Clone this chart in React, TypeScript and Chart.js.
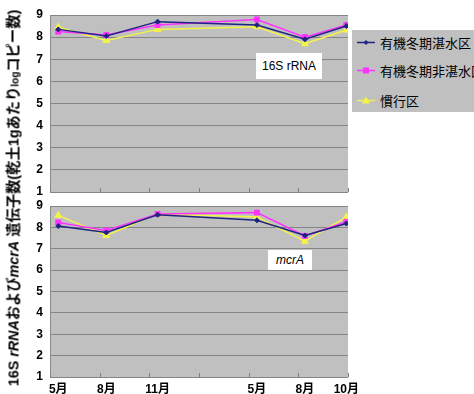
import React, { useEffect, useRef } from 'react';
import { Chart, registerables } from 'chart.js';
Chart.register(...registerables);

// ---- data ----
const categories = ['5月', '8月', '11月', '5月', '8月', '10月'];
const sampleMonths = [0.5, 3.4, 6.5, 12.5, 15.4, 17.9];
const seriesNames = ['有機冬期湛水区', '有機冬期非湛水区', '慣行区'];
const rrnaFlooded = [8.35, 8.05, 8.7, 8.55, 7.9, 8.5];
const rrnaNonFlooded = [8.25, 8.1, 8.55, 8.8, 8.0, 8.55];
const rrnaConventional = [8.45, 7.85, 8.35, 8.47, 7.7, 8.32];
const mcrFlooded = [8.06, 7.76, 8.59, 8.33, 7.62, 8.18];
const mcrNonFlooded = [8.23, 7.85, 8.63, 8.69, 7.6, 8.26];
const mcrConventional = [8.56, 7.62, 8.62, 8.48, 7.35, 8.48];
const yMin = 1;
const yMax = 9;
const xMin = 0;
const xMax = 18;
const xMarkStep = 3;

const seriesColors = ['#1c2580', '#ff33ff', '#f4f448'];
const seriesPoint = ['rectRot', 'rect', 'triangle'];
const seriesRadius = [2.5, 3.5, 4];

const FONT = '"Liberation Sans", "Noto Sans CJK JP", sans-serif';

const bgPlugin = {
  id: 'panelBg',
  beforeDraw(chart: any) {
    const { ctx, chartArea } = chart;
    ctx.save();
    ctx.fillStyle = '#c0c0c0';
    ctx.fillRect(chartArea.left, chartArea.top, chartArea.right - chartArea.left, chartArea.bottom - chartArea.top);
    ctx.restore();
  },
  beforeDatasetsDraw(chart: any) {
    const { ctx, chartArea } = chart;
    const xs = chart.scales.x;
    ctx.save();
    ctx.strokeStyle = '#808080';
    ctx.lineWidth = 1;
    for (let v = xMin; v <= xMax; v += xMarkStep) {
      const px = Math.round(xs.getPixelForValue(v)) + 0.5;
      ctx.beginPath();
      ctx.moveTo(px, chartArea.bottom);
      ctx.lineTo(px, chartArea.bottom - 4);
      ctx.stroke();
    }
    ctx.restore();
  },
};

function makeChart(canvas: HTMLCanvasElement, values: number[][], showLabels: boolean, padTop: number, xHeight: number) {
  return new Chart(canvas, {
    type: 'line',
    data: {
      datasets: values.map((vals, i) => ({
        label: seriesNames[i],
        data: vals.map((v, j) => ({ x: sampleMonths[j], y: v })),
        borderColor: seriesColors[i],
        backgroundColor: seriesColors[i],
        borderWidth: 1.5,
        pointStyle: seriesPoint[i] as any,
        pointRadius: seriesRadius[i],
        pointBorderWidth: 1,
        pointBorderColor: seriesColors[i],
        pointBackgroundColor: seriesColors[i],
        tension: 0,
      })),
    },
    options: {
      responsive: false,
      animation: false,
      events: [],
      layout: { padding: { top: padTop, right: 22, left: 0, bottom: 0 } },
      plugins: { legend: { display: false }, tooltip: { enabled: false } },
      scales: {
        x: {
          type: 'linear',
          min: xMin,
          max: xMax,
          afterBuildTicks: (scale: any) => {
            scale.ticks = sampleMonths.map((v) => ({ value: v }));
          },
          afterFit: (scale: any) => {
            scale.height = xHeight;
            scale.paddingLeft = 0;
            scale.paddingRight = 0;
          },
          grid: { display: false, drawTicks: false },
          border: { display: false },
          ticks: {
            display: showLabels,
            autoSkip: false,
            maxRotation: 0,
            padding: 5,
            color: '#000',
            font: { family: FONT, size: 12, weight: 'bold' },
            callback: (_v: any, i: number) => categories[i],
          },
        },
        y: {
          type: 'linear',
          min: yMin,
          max: yMax,
          afterFit: (scale: any) => {
            scale.width = 30;
            scale.paddingTop = 0;
            scale.paddingBottom = 0;
          },
          grid: { color: '#858585', lineWidth: 1, drawTicks: false },
          border: { display: true, color: '#8a8a8a' },
          ticks: {
            stepSize: 1,
            padding: 7,
            color: '#000',
            font: { family: FONT, size: 12, weight: 'bold' },
          },
        },
      },
    } as any,
    plugins: [bgPlugin],
  });
}

function LegendMark({ i }: { i: number }) {
  const c = seriesColors[i];
  let marker: any;
  if (i === 0) marker = <polygon points="10,2 12.5,4.5 10,7 7.5,4.5" fill={c} />;
  else if (i === 1) marker = <rect x="7" y="1.5" width="6" height="6" fill={c} />;
  else marker = <polygon points="10,0.5 14,7.5 6,7.5" fill={c} />;
  return (
    <svg width="20" height="9" style={{ display: 'block' }}>
      <line x1="1" y1="4.5" x2="19" y2="4.5" stroke={c} strokeWidth="1.5" />
      {marker}
    </svg>
  );
}

export default function App() {
  const topRef = useRef<HTMLCanvasElement>(null);
  const botRef = useRef<HTMLCanvasElement>(null);

  useEffect(() => {
    const a = makeChart(topRef.current!, [rrnaFlooded, rrnaNonFlooded, rrnaConventional], false, 15, 8);
    const b = makeChart(botRef.current!, [mcrFlooded, mcrNonFlooded, mcrConventional], true, 16, 17);
    return () => {
      a.destroy();
      b.destroy();
    };
  }, []);

  return (
    <div
      style={{
        position: 'absolute',
        left: 0,
        top: 0,
        width: 474,
        height: 394,
        overflow: 'hidden',
        background: '#fff',
        fontFamily: FONT,
      }}
    >
      <canvas ref={topRef} width={350} height={200} style={{ position: 'absolute', left: 20, top: 0, display: 'block' }} />
      <canvas ref={botRef} width={350} height={204} style={{ position: 'absolute', left: 20, top: 190, display: 'block' }} />

      <div
        style={{
          position: 'absolute',
          left: 256,
          top: 53,
          width: 66,
          height: 26,
          background: '#fff',
          fontSize: 12,
          lineHeight: '26px',
          textAlign: 'center',
          color: '#000',
        }}
      >
        16S rRNA
      </div>
      <div
        style={{
          position: 'absolute',
          left: 268,
          top: 250,
          width: 44,
          height: 20,
          background: '#fff',
          fontSize: 12,
          lineHeight: '20px',
          textAlign: 'center',
          fontStyle: 'italic',
          color: '#000',
        }}
      >
        mcrA
      </div>

      <div
        style={{
          position: 'absolute',
          left: 352,
          top: 30,
          width: 140,
          height: 82,
          background: '#c0c0c0',
        }}
      >
        {seriesNames.map((n, i) => (
          <div
            key={i}
            style={{
              position: 'absolute',
              left: 4,
              top: [3, 31, 61][i],
              height: 18,
              display: 'flex',
              alignItems: 'center',
              whiteSpace: 'nowrap',
            }}
          >
            <LegendMark i={i} />
            <span style={{ marginLeft: 4, fontSize: 13, color: '#000', fontFamily: '"Noto Sans CJK JP", sans-serif' }}>{n}</span>
          </div>
        ))}
      </div>

      <div
        style={{
          position: 'absolute',
          left: 12,
          top: 198,
          transform: 'translate(-50%, -50%) rotate(-90deg)',
          whiteSpace: 'nowrap',
          fontWeight: 'bold',
          fontSize: 14.3,
          color: '#000',
          fontFamily: FONT,
        }}
      >
        16S <i>rRNA</i>および<i>mcrA</i> 遺伝子数(乾土1gあたり<span style={{ fontSize: 10 }}>log</span>コピー数)
      </div>
    </div>
  );
}
